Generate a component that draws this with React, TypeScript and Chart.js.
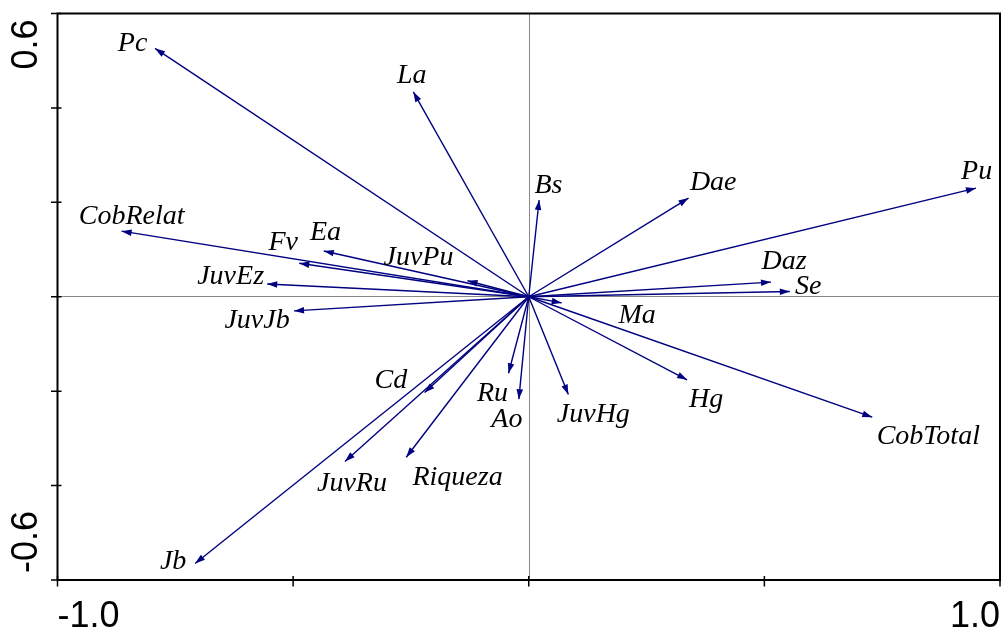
import React, { useEffect, useRef } from 'react';
import { Chart, registerables } from 'chart.js';

Chart.register(...registerables);

// Variable names (biplot arrows)
const variables = [
  'Pc', 'La', 'Bs', 'Dae', 'Pu', 'CobRelat', 'Fv', 'Ea', 'JuvPu', 'JuvEz', 'Daz', 'Se',
  'JuvJb', 'Ma', 'Cd', 'Ru', 'Ao', 'JuvHg', 'Hg', 'CobTotal', 'JuvRu', 'Riqueza', 'Jb',
];

// Axis 1 scores (arrow tips)
const axis1 = [
  -0.793, -0.245, 0.022, 0.339, 0.949, -0.864, -0.487, -0.435, -0.130, -0.555, 0.514, 0.554,
  -0.498, 0.070, -0.221, -0.043, -0.021, 0.084, 0.336, 0.729, -0.390, -0.260, -0.708,
];

// Axis 2 scores (arrow tips)
const axis2 = [
  0.526, 0.434, 0.205, 0.209, 0.230, 0.139, 0.071, 0.097, 0.034, 0.027, 0.031, 0.011,
  -0.030, -0.013, -0.203, -0.162, -0.217, -0.207, -0.176, -0.255, -0.349, -0.340, -0.565,
];

const xTickValues = [-1.0, -0.5, 0, 0.5, 1.0];
const xTickLabels = ['-1.0', '', '', '', '1.0'];
const yTickValues = [-0.6, -0.4, -0.2, 0, 0.2, 0.4, 0.6];
const yTickLabels = ['-0.6', '', '', '', '', '', '0.6'];

// Label placement: pixel offset of label (center, baseline) from the arrow tip
const labelOffsets: [number, number][] = [
  [-22.5, 2.4], [-1.6, -8.4], [9.4, -7.3], [24.7, -8.3], [0.7, -9.3], [10, -6.7],
  [-16, -13.3], [1.7, -11], [-49, -15.7], [-36.6, 0], [13, -13], [18.3, 2.3],
  [-37, 16.6], [75.3, 20.6], [-33.8, -4.4], [-16, 27.4], [-12, 28], [25, 27.4],
  [19, 27.3], [56, 26.7], [7, 29], [51.3, 27.7], [-22, 6],
];

const ARROW_COLOR = '#000080';

const biplotPlugin = {
  id: 'biplot',
  beforeDatasetsDraw(chart: any) {
    const { ctx, chartArea: a, scales } = chart;
    const x0 = Math.round(scales.x.getPixelForValue(0)) + 0.5;
    const y0 = Math.floor(scales.y.getPixelForValue(0)) + 0.5;
    ctx.save();
    ctx.strokeStyle = '#111';
    ctx.lineWidth = 1;
    ctx.setLineDash([1, 1]);
    ctx.beginPath();
    ctx.moveTo(x0, a.top);
    ctx.lineTo(x0, a.bottom);
    ctx.moveTo(a.left, y0);
    ctx.lineTo(a.right, y0);
    ctx.stroke();
    ctx.restore();
  },
  afterDatasetsDraw(chart: any) {
    const { ctx } = chart;
    ctx.save();
    chart.data.datasets.forEach((_ds: any, i: number) => {
      const meta = chart.getDatasetMeta(i);
      const p0 = meta.data[0];
      const p1 = meta.data[1];
      if (!p0 || !p1) return;
      const ang = Math.atan2(p1.y - p0.y, p1.x - p0.x);
      const c = Math.cos(ang);
      const s = Math.sin(ang);
      const L = 10;
      const W = 3.3;
      ctx.fillStyle = ARROW_COLOR;
      ctx.beginPath();
      ctx.moveTo(p1.x, p1.y);
      ctx.lineTo(p1.x - L * c + W * s, p1.y - L * s - W * c);
      ctx.lineTo(p1.x - L * c - W * s, p1.y - L * s + W * c);
      ctx.closePath();
      ctx.fill();
      const off = labelOffsets[i];
      ctx.fillStyle = '#000';
      ctx.font = 'italic 28px "Liberation Serif"';
      ctx.textAlign = 'center';
      ctx.textBaseline = 'alphabetic';
      ctx.fillText(variables[i], p1.x + off[0], p1.y + off[1]);
    });
    ctx.restore();
  },
  afterDraw(chart: any) {
    const { ctx, chartArea: a, scales } = chart;
    ctx.save();
    ctx.strokeStyle = '#000';
    ctx.lineWidth = 2;
    ctx.strokeRect(a.left, a.top, a.right - a.left, a.bottom - a.top);
    ctx.lineWidth = 1.5;
    ctx.beginPath();
    yTickValues.forEach((v) => {
      const py = scales.y.getPixelForValue(v);
      ctx.moveTo(a.left - 6.5, py);
      ctx.lineTo(a.left + 4, py);
    });
    xTickValues.forEach((v) => {
      const px = scales.x.getPixelForValue(v);
      ctx.moveTo(px, a.bottom - 4);
      ctx.lineTo(px, a.bottom + 6.5);
    });
    ctx.stroke();

    ctx.fillStyle = '#000';
    ctx.font = '36px "Liberation Sans"';
    ctx.textBaseline = 'alphabetic';
    xTickValues.forEach((v, i) => {
      const label = xTickLabels[i];
      if (!label) return;
      const px = scales.x.getPixelForValue(v);
      ctx.textAlign = i === 0 ? 'left' : i === xTickValues.length - 1 ? 'right' : 'center';
      ctx.fillText(label, px, 627);
    });
    yTickValues.forEach((v, i) => {
      const label = yTickLabels[i];
      if (!label) return;
      const py = scales.y.getPixelForValue(v);
      ctx.save();
      if (i === yTickValues.length - 1) {
        ctx.translate(37, py + 6);
        ctx.rotate(-Math.PI / 2);
        ctx.textAlign = 'right';
      } else if (i === 0) {
        ctx.translate(37, py - 7);
        ctx.rotate(-Math.PI / 2);
        ctx.textAlign = 'left';
      } else {
        ctx.translate(37, py);
        ctx.rotate(-Math.PI / 2);
        ctx.textAlign = 'center';
      }
      ctx.fillText(label, 0, 0);
      ctx.restore();
    });
    ctx.restore();
  },
};

export default function App() {
  const canvasRef = useRef<HTMLCanvasElement | null>(null);

  useEffect(() => {
    if (!canvasRef.current) return;
    const datasets = variables.map((name, i) => ({
      label: name,
      data: [
        { x: 0, y: 0 },
        { x: axis1[i], y: axis2[i] },
      ],
      showLine: true,
      borderColor: ARROW_COLOR,
      backgroundColor: ARROW_COLOR,
      borderWidth: 1.4,
      pointRadius: 0,
      pointHoverRadius: 0,
    }));
    const chart = new Chart(canvasRef.current, {
      type: 'scatter',
      data: { datasets },
      options: {
        animation: false,
        responsive: false,
        devicePixelRatio: 1,
        layout: { padding: { left: 57.5, right: 2, top: 13.5, bottom: 47 } },
        plugins: {
          legend: { display: false },
          tooltip: { enabled: false },
        },
        events: [],
        scales: {
          x: { type: 'linear', min: -1, max: 1, display: false },
          y: { type: 'linear', min: -0.6, max: 0.6, display: false },
        },
      },
      plugins: [biplotPlugin],
    });
    return () => chart.destroy();
  }, []);

  return (
    <div style={{ position: 'fixed', left: 0, top: 0, width: 1002, height: 627, background: '#fff' }}>
      <canvas ref={canvasRef} width={1002} height={627} />
    </div>
  );
}
